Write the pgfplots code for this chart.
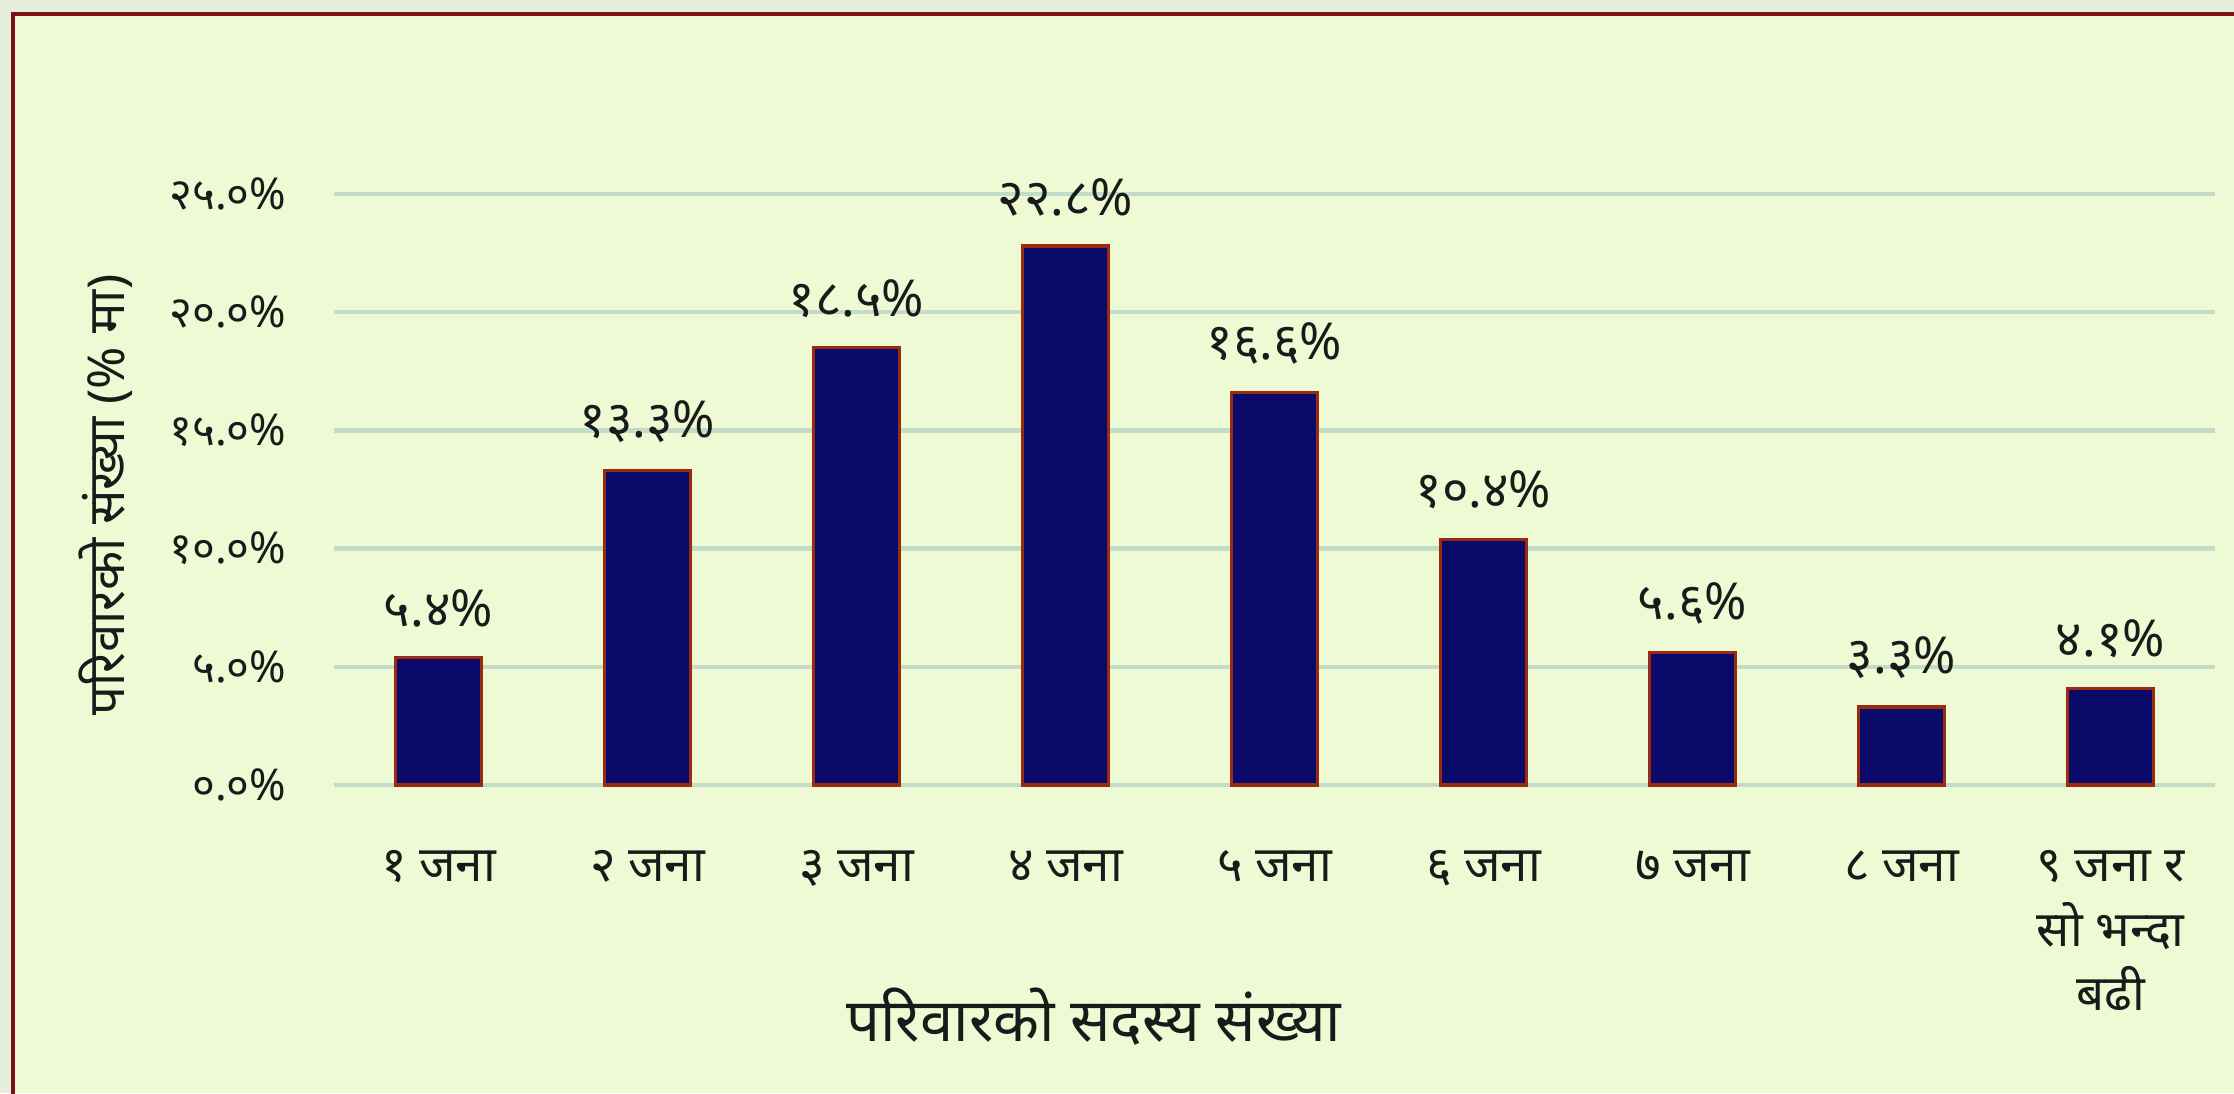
\documentclass[border=0pt]{standalone}
\usepackage{fontspec}
\setmainfont[Script=Devanagari]{Noto Sans}
\usepackage{pgfplots}
\pgfplotsset{compat=1.18}
\definecolor{bgfill}{HTML}{EEFAD3}
\definecolor{outerbg}{HTML}{E6EEDC}
\definecolor{framec}{HTML}{7E1212}
\definecolor{barfill}{HTML}{0A0A6A}
\definecolor{baredge}{HTML}{9A2A10}
\definecolor{gridc}{HTML}{C3DCC8}
\definecolor{txt}{HTML}{1A1A1A}

\begin{document}
\begin{tikzpicture}[x=1cm,y=1cm]
\path[use as bounding box] (0,0) rectangle (22.34,10.93);
\fill[outerbg] (0,0) rectangle (22.34,10.93);
\fill[bgfill] (0.13,0) rectangle (22.34,10.79);
\draw[framec, line width=0.045cm] (0.13,-0.1) -- (0.13,10.79) -- (22.5,10.79);
\begin{axis}[
    at={(3.34cm,3.08cm)}, anchor=south west,
    scale only axis, width=18.81cm, height=5.91cm,
    xmin=0.5, xmax=9.5, ymin=0, ymax=25,
    ybar, bar width=0.86cm,
    axis line style={draw=none},
    tick style={draw=none},
    ymajorgrids, major grid style={gridc, line width=1.3pt},
    ytick={0,5,10,15,20,25},
    yticklabels={०.०\%, ५.०\%, १०.०\%, १५.०\%, २०.०\%, २५.०\%},
    yticklabel style={anchor=east, inner sep=0pt, xshift=-0.47cm, font=\fontsize{12.5}{15}\selectfont, text=txt},
    xtick={1,...,9},
    xticklabels={१ जना, २ जना, ३ जना, ४ जना, ५ जना, ६ जना, ७ जना, ८ जना, {९ जना र\\सो भन्दा\\बढी}},
    xticklabel style={anchor=north, align=center, inner sep=0pt, yshift=-0.5cm, font=\fontsize{14}{18.3}\selectfont, text=txt},
    xlabel={परिवारको सदस्य संख्या},
    ylabel={परिवारको संख्या (\% मा)},
    x label style={at={(axis description cs:0.404,-0.3926)}, anchor=center, font=\fontsize{17}{20}\selectfont, text=txt},
    y label style={at={(axis description cs:-0.1215,0.4907)}, anchor=center, font=\fontsize{14.5}{17}\selectfont, text=txt},
    clip=false,
    point meta=explicit symbolic,
    nodes near coords,
    every node near coord/.append style={anchor=center, yshift=0.49cm, font=\fontsize{14.5}{17}\selectfont, text=txt},
]
\addplot[fill=barfill, draw=baredge, line width=0.9pt] coordinates {
(1,5.4) [५.४\%]
(2,13.3) [१३.३\%]
(3,18.5) [१८.५\%]
(4,22.8) [२२.८\%]
(5,16.6) [१६.६\%]
(6,10.4) [१०.४\%]
(7,5.6) [५.६\%]
(8,3.3) [३.३\%]
(9,4.1) [४.१\%]
};
\end{axis}
\end{tikzpicture}
\end{document}
